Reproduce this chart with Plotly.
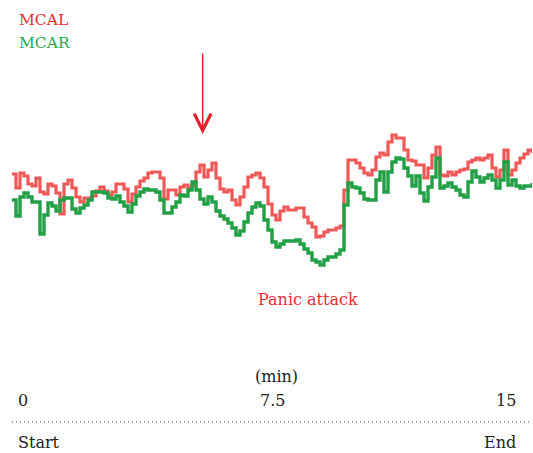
import numpy as np
import plotly.graph_objects as go

# Signal amplitudes (arbitrary units), sampled uniformly over 0-15 min
mcal = [126,112,127,124,116,114,122,108,106,116,
        114,107,86,116,120,112,103,98,102,102,
        104,109,113,109,105,108,116,116,111,98,
        106,113,119,122,127,128,128,122,101,110,
        110,105,113,115,112,115,128,135,123,130,
        137,122,111,108,110,100,95,103,113,123,
        125,127,122,113,96,85,80,89,93,90,
        90,92,92,83,77,73,63,64,68,70,
        70,72,74,110,140,140,137,132,127,125,
        130,143,147,145,158,165,162,162,150,140,
        139,135,135,122,132,145,153,125,124,128,
        125,128,130,131,138,140,142,140,142,145,
        132,123,130,150,125,130,137,142,146,150,
        147]
mcar = [100,84,103,107,103,98,98,66,85,97,
        94,89,100,102,102,91,87,92,95,100,
        108,108,108,107,102,101,104,98,94,88,
        96,104,108,111,110,110,108,100,87,87,
        93,98,105,104,110,118,110,101,96,103,
        98,89,84,81,77,72,65,69,78,87,
        93,97,94,80,70,58,53,56,59,59,
        59,60,56,51,47,40,38,35,40,43,
        43,46,50,95,117,113,112,107,101,100,
        100,120,128,108,128,138,142,141,132,124,
        114,124,107,99,113,123,142,112,114,117,
        113,110,105,103,118,129,123,118,122,125,
        120,112,120,138,115,120,114,112,114,114,
        117]

T_START, T_END = 0, 15
time_min = np.linspace(T_START, T_END, len(mcal))
tick_vals = [0, 7.5, 15]
tick_labels = ["0", "7.5", "15"]
series_names = ["MCAL", "MCAR"]
ARROW_T = 5.5          # onset marker (min)
ARROW_LEVEL = 166      # arrow tip level
PANIC_T = 8.55

RED_LINE = "rgb(240,88,88)"
GREEN_LINE = "rgb(34,160,70)"
RED_TEXT = "rgb(232,45,52)"
GREEN_TEXT = "rgb(40,168,80)"
FONT = "DejaVu Serif"

fig = go.Figure()
fig.add_trace(go.Scatter(x=time_min, y=mcal, mode="lines", name=series_names[0],
                         line=dict(color=RED_LINE, width=3.2, shape="hv")))
fig.add_trace(go.Scatter(x=time_min, y=mcar, mode="lines", name=series_names[1],
                         line=dict(color=GREEN_LINE, width=3.4, shape="hv")))

def ypaper(px):
    return 1 - px / 453.0

ann = []
ann.append(dict(xref="paper", yref="paper", x=0.01, y=ypaper(20), text=series_names[0],
                showarrow=False, xanchor="left", yanchor="middle",
                font=dict(family=FONT, size=15.5, color=RED_TEXT)))
ann.append(dict(xref="paper", yref="paper", x=0.01, y=ypaper(43), text=series_names[1],
                showarrow=False, xanchor="left", yanchor="middle",
                font=dict(family=FONT, size=15.5, color=GREEN_TEXT)))
# arrow
ann.append(dict(x=ARROW_T, y=ARROW_LEVEL, xref="x", yref="y", text="", showarrow=True,
                ax=0, ay=-82, arrowhead=5, arrowsize=2.2, arrowwidth=1.5,
                arrowcolor="rgb(232,30,40)"))
ann.append(dict(xref="x", yref="paper", x=PANIC_T, y=ypaper(299), text="Panic attack",
                showarrow=False, xanchor="center", yanchor="middle",
                font=dict(family=FONT, size=16, color=RED_TEXT)))
ann.append(dict(xref="x", yref="paper", x=7.5, y=ypaper(376), text="(min)", xshift=4,
                showarrow=False, xanchor="center", yanchor="middle",
                font=dict(family=FONT, size=16, color="#222")))
anchors = ["left", "center", "right"]
shifts = [4, 0, -14]
for v, lab, a, s in zip(tick_vals, tick_labels, anchors, shifts):
    ann.append(dict(xref="x", yref="paper", x=v, y=ypaper(400), text=lab, xshift=s,
                    showarrow=False, xanchor=a, yanchor="middle",
                    font=dict(family=FONT, size=16, color="#222")))
ann.append(dict(xref="x", yref="paper", x=T_START, y=ypaper(442), text="Start", xshift=4,
                showarrow=False, xanchor="left", yanchor="middle",
                font=dict(family=FONT, size=16, color="#222")))
ann.append(dict(xref="x", yref="paper", x=T_END, y=ypaper(442), text="End", xshift=-14,
                showarrow=False, xanchor="right", yanchor="middle",
                font=dict(family=FONT, size=16, color="#222")))

fig.update_layout(
    width=533, height=453, autosize=False,
    margin=dict(l=12, r=1, t=0, b=0, pad=0),
    paper_bgcolor="white", plot_bgcolor="white",
    showlegend=False,
    annotations=ann,
    shapes=[dict(type="line", xref="paper", yref="paper", x0=0, x1=1.0,
                 y0=ypaper(422), y1=ypaper(422),
                 line=dict(color="#444", width=1.2, dash="1px,3px"))],
    xaxis=dict(range=[T_START, T_END], visible=False),
    yaxis=dict(range=[-153, 300], visible=False),
)

fig.write_html("out.html", config={"displayModeBar": False},
               post_script="document.body.style.margin='0px';")
